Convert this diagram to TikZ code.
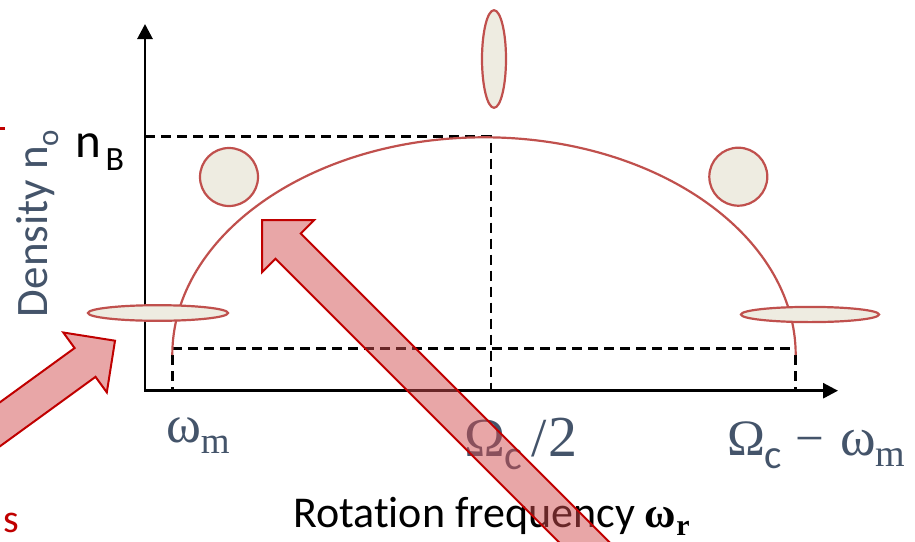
\documentclass[tikz,border=0pt]{standalone}
\usepackage{fontspec}
\setmainfont{Carlito}[Ligatures=NoCommon]
\newfontfamily\timesf{Liberation Serif}
\usetikzlibrary{arrows.meta}
\definecolor{labgray}{HTML}{44546A}
\definecolor{curvered}{HTML}{C0504D}
\definecolor{ellfill}{HTML}{EEECE1}
\definecolor{arrowred}{HTML}{C00000}
\definecolor{arrowfill}{RGB}{209,77,79}
\newcommand\fs[1]{\fontsize{#1}{#1}\selectfont}
\begin{document}
\begin{tikzpicture}[x=1pt,y=-1pt,
  axisline/.style={line width=2.8pt, line join=miter, {Triangle[length=15pt,width=15pt]}-{Triangle[length=15pt,width=15pt]}},
  guide/.style={line width=2.5pt, dash pattern=on 10pt off 6pt},
  blob/.style={draw=curvered, fill=ellfill, line width=2.2pt},
  fatarrow/.style={draw=arrowred, fill=arrowfill, fill opacity=0.5, line width=2pt, line join=miter},
  lbl/.style={inner sep=0pt, outer sep=0pt, anchor=base west}]
\useasboundingbox (0,0) rectangle (915,541);
\clip (0,0) rectangle (915,541);
% coordinates
\coordinate (O) at (145,390.7);
\coordinate (ytop) at (145,24);
\coordinate (xend) at (838,390.7);
\coordinate (nB) at (145,136.6);
\coordinate (top) at (491,136.6);
\coordinate (top0) at (491,390.7);
\coordinate (wl) at (172.3,355);
\coordinate (wl0) at (172.3,390.7);
\coordinate (wr) at (795.7,355);
\coordinate (wr0) at (795.7,390.7);
\coordinate (hl) at (172.3,348.3);
\coordinate (hr) at (795.7,348.3);
% guides
\draw[guide] (nB) -- (top) -- (top0);
\draw[guide] (hl) -- (hr);
\draw[guide] (wl) -- (wl0);
\draw[guide] (wr) -- (wr0);
% axes
\draw[axisline] (ytop) -- (O) -- (xend);
% curve
\draw[curvered, line width=2.2pt] (wl) arc[start angle=180, end angle=0, x radius=311.7pt, y radius=217.7pt];
% blobs
\draw[blob] (158,313) ellipse[x radius=70pt, y radius=7.8pt];
\draw[blob] (810,314.5) ellipse[x radius=69pt, y radius=7.6pt];
\draw[blob] (229,177) circle[radius=29pt];
\draw[blob] (738.3,176.7) circle[radius=29pt];
\draw[blob] (494,59) ellipse[x radius=12pt, y radius=48.8pt];
% labels
\node[lbl, rotate=90, text=labgray] (dens) at (47,317) {\fs{45}Density n\raisebox{-11pt}{\fs{31}o}};
\node[lbl] (nBl) at (75,157) {\fs{49}n\hspace{5pt}\raisebox{-13pt}{\fs{34}B}};
\node[lbl, text=labgray] (wm) at (166,442) {\timesf\fs{53}ω\raisebox{-11pt}{\fs{37}m}};
\node[lbl, text=labgray] (Oc2) at (464,456) {\timesf\fs{55}Ω\raisebox{-13pt}{\normalfont\fs{42}c}\hspace{9pt}/\hspace{2pt}{\fs{58}2}};
\node[lbl, text=labgray] (Ocwm) at (727,455) {\timesf\fs{51}Ω\raisebox{-13pt}{\normalfont\fs{41}c}\hspace{13pt}−\hspace{16pt}{\fs{54}ω}\raisebox{-11pt}{\fs{38}m}};
\node[lbl] (rot) at (293,527) {\fs{44}Rotation frequency {\timesf\bfseries\fs{43}ω\raisebox{-8pt}{\fs{30}r}}};
\node[lbl, text=arrowred] (sfrag) at (3,532) {\fs{40}s};
\fill[arrowred] (0,126.5) rectangle (4.5,130);
% fat arrows
\coordinate (bigtip) at (262,220);
\coordinate (smalltip) at (115,340.7);
\begin{scope}[shift={(bigtip)}, rotate=135]
\draw[fatarrow] (0,0) -- (-37,37) -- (-37,17.8) -- (-520,17.8) -- (-520,-17.8) -- (-37,-17.8) -- (-37,-37) -- cycle;
\end{scope}
\begin{scope}[shift={(smalltip)}, rotate=36]
\draw[fatarrow] (0,0) -- (-37,37) -- (-37,17.8) -- (-320,17.8) -- (-320,-17.8) -- (-37,-17.8) -- (-37,-37) -- cycle;
\end{scope}
\end{tikzpicture}
\end{document}
